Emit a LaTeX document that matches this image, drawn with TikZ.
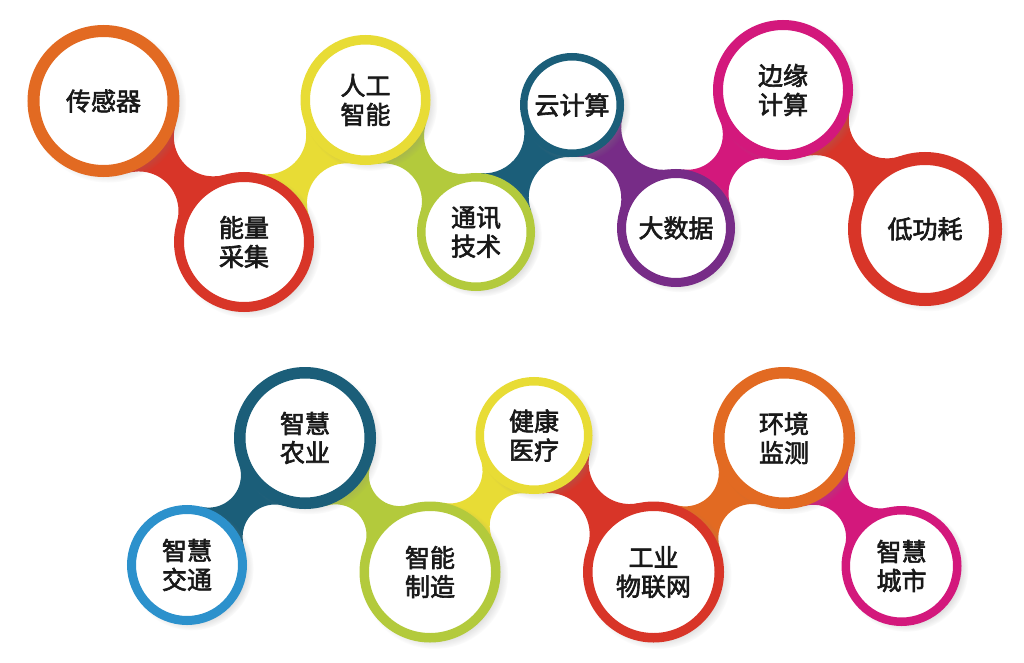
\documentclass[tikz,border=0pt]{standalone}
\usepackage{fontspec}
\newfontfamily\cjk[FakeBold=2.4]{Noto Sans CJK SC}
\usetikzlibrary{shadows,calc}
\definecolor{corange}{HTML}{E26A22}
\definecolor{cred}{HTML}{D83528}
\definecolor{cyellow}{HTML}{E8DC35}
\definecolor{clime}{HTML}{B3CA3C}
\definecolor{cteal}{HTML}{1B5E79}
\definecolor{cpurple}{HTML}{772C87}
\definecolor{cmagenta}{HTML}{D3187C}
\definecolor{cblue}{HTML}{2C91CC}
\pgfdeclarelayer{back}
\pgfdeclarelayer{bg}
\pgfsetlayers{back,bg,main}
\tikzset{
  ring/.style={circle, draw=#1, fill=white, inner sep=0pt, align=center,
    text=black!90, font=\cjk\fontsize{25}{29}\selectfont,
    circular drop shadow={shadow xshift=4pt, shadow yshift=-3pt, opacity=.28, shadow scale=1.12}}
}
\def\nkw{13}
% \ringnode{name}{x}{y}{outer r}{ring width}{colour}{text}
\newcommand\ringnode[7]{%
  \node[ring=#6, line width=#5pt, minimum size={(2*#4-#5)*1pt}] (#1) at (#2,#3) {#7};}
% \neck{node1}{r1}{node2}{r2}{colour}
\newcommand\neck[5]{%
  \pgfpointdiff{\pgfpointanchor{#1}{center}}{\pgfpointanchor{#3}{center}}%
  \pgfgetlastxy{\nkx}{\nky}%
  \pgfmathsetmacro\nkd{veclen(\nkx,\nky)}%
  \pgfmathsetmacro\nkD{\nkd/2}%
  \pgfmathsetmacro\nkr{(#2+#4)/2}%
  \pgfmathsetmacro\nkR{(\nkD*\nkD+\nkw*\nkw-\nkr*\nkr)/(2*(\nkr-\nkw))}%
  \pgfmathsetmacro\nka{#2+\nkR}%
  \pgfmathsetmacro\nkb{#4+\nkR}%
  \pgfmathsetmacro\nkA{\nkd/2+(\nka-\nkb)*(\nka+\nkb)/(2*\nkd)}%
  \pgfmathsetmacro\nkH{sqrt((\nka-\nkA)*(\nka+\nkA))}%
  \coordinate (#1#3m) at ($(#1.center)!\nkA pt!(#3.center)$);
  \coordinate (#1#3a) at ($(#1#3m)!\nkH pt!90:(#3.center)$);
  \coordinate (#1#3b) at ($(#1#3m)!\nkH pt!-90:(#3.center)$);
  \coordinate (#1#3pa) at ($(#1.center)!#2 pt!(#1#3a)$);
  \coordinate (#1#3qa) at ($(#3.center)!#4 pt!(#1#3a)$);
  \coordinate (#1#3pb) at ($(#1.center)!#2 pt!(#1#3b)$);
  \coordinate (#1#3qb) at ($(#3.center)!#4 pt!(#1#3b)$);
  \begin{pgfonlayer}{bg}
    \fill[#5] let \p1=($(#1#3pa)-(#1#3a)$), \p2=($(#1#3qa)-(#1#3a)$),
                  \p3=($(#1#3qb)-(#1#3b)$), \p4=($(#1#3pb)-(#1#3b)$),
                  \n1={atan2(\y1,\x1)}, \n2={atan2(\y2,\x2)},
                  \n3={atan2(\y3,\x3)}, \n4={atan2(\y4,\x4)},
                  \n5={mod(\n2-\n1+540,360)-180}, \n6={mod(\n4-\n3+540,360)-180} in
      (#1.center) -- (#1#3pa) arc[start angle=\n1, delta angle=\n5, radius=\nkR pt]
      -- (#3.center) -- (#1#3qb) arc[start angle=\n3, delta angle=\n6, radius=\nkR pt]
      -- cycle;
  \end{pgfonlayer}}
\begin{document}
\begin{tikzpicture}[x=1pt, y=-1pt]
\begin{pgfonlayer}{back}
\fill[white] (0,0) rectangle (1024,663);
\end{pgfonlayer}
\useasboundingbox (0,0) rectangle (1024,663);
% top row
\ringnode{A}{103.5}{101}{76}{12}{corange}{传感器}
\ringnode{B}{244}{242}{70}{10}{cred}{能量\\采集}
\ringnode{C}{365.5}{100}{65}{9.5}{cyellow}{人工\\智能}
\ringnode{D}{476}{232}{59}{8.5}{clime}{通讯\\技术}
\ringnode{E}{572}{105}{52}{7.5}{cteal}{云计算}
\ringnode{F}{676}{228}{59}{9}{cpurple}{大数据}
\ringnode{G}{783}{90}{70}{10}{cmagenta}{边缘\\计算}
\ringnode{H}{925}{229}{77}{13}{cred}{低功耗}
% bottom row
\ringnode{I}{187}{565}{60}{9}{cblue}{智慧\\交通}
\ringnode{J}{305}{438}{71}{11.5}{cteal}{智慧\\农业}
\ringnode{K}{430}{572}{70.5}{9.5}{clime}{智能\\制造}
\ringnode{L}{534}{435.5}{58.5}{8.5}{cyellow}{健康\\医疗}
\ringnode{M}{653.5}{572}{70.5}{9.5}{cred}{工业\\物联网}
\ringnode{N}{784}{438}{71}{11.5}{corange}{环境\\监测}
\ringnode{O}{901.5}{566}{60}{8.5}{cmagenta}{智慧\\城市}
% connectors
\neck{A}{76}{B}{70}{cred}
\neck{B}{70}{C}{65}{cyellow}
\neck{C}{65}{D}{59}{clime}
\neck{D}{59}{E}{52}{cteal}
\neck{E}{52}{F}{59}{cpurple}
\neck{F}{59}{G}{70}{cmagenta}
\neck{G}{70}{H}{77}{cred}
\neck{I}{60}{J}{71}{cteal}
\neck{J}{71}{K}{70.5}{clime}
\neck{K}{70.5}{L}{58.5}{cyellow}
\neck{L}{58.5}{M}{70.5}{cred}
\neck{M}{70.5}{N}{71}{corange}
\neck{N}{71}{O}{60}{cmagenta}
\end{tikzpicture}
\end{document}
